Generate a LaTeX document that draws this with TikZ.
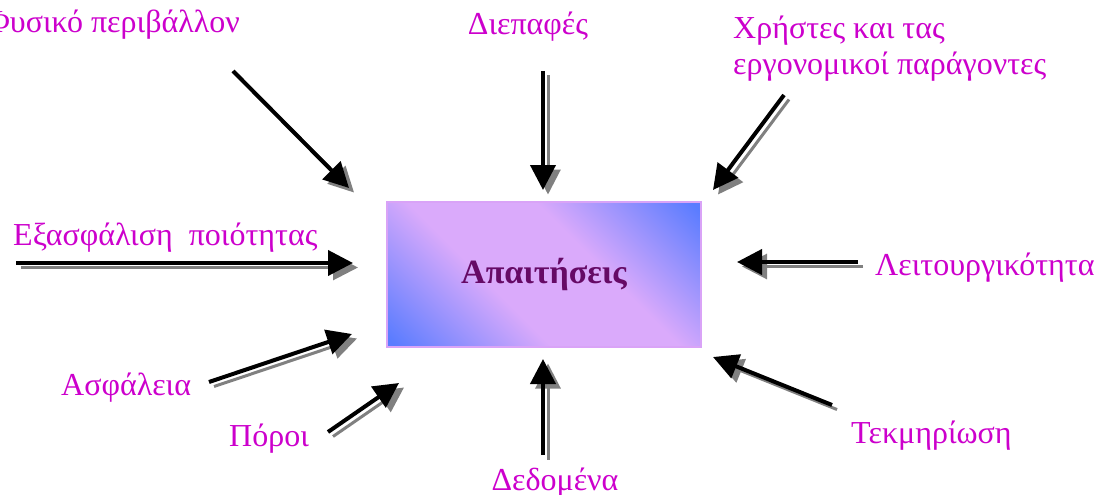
\documentclass[tikz,border=0pt]{standalone}
\usepackage{fontspec}
\setmainfont{Liberation Serif}
\usetikzlibrary{arrows.meta}
\definecolor{labelmagenta}{HTML}{CC00CC}
\definecolor{titlepurple}{HTML}{660A66}
\definecolor{boxblue}{HTML}{5A7CFF}
\definecolor{boxviolet}{HTML}{DAAAFB}
\definecolor{boxedge}{HTML}{D9A3F7}
\definecolor{shadowgray}{HTML}{808080}
% diagonal band: blue corners, wide violet middle
\pgfdeclarehorizontalshading{reqshade}{100bp}{%
  color(0bp)=(boxblue); color(16bp)=(boxblue); color(40bp)=(boxviolet);
  color(60bp)=(boxviolet); color(84bp)=(boxblue); color(100bp)=(boxblue)}
\newcommand\castarrow[2]{%
  \draw[inarrow, shadowline] (#1) -- (#2);
  \draw[inarrow] (#1) -- (#2);}
\begin{document}
\begin{tikzpicture}[x=1pt,y=-1pt,
  lbl/.style={text=labelmagenta, font=\fontsize{32}{36}\selectfont, inner sep=0pt},
  inarrow/.style={line width=4pt, -{Triangle[length=25pt,width=25pt]}},
  shadowline/.style={draw=shadowgray, fill=shadowgray, line width=3pt,
    transform canvas={xshift=5pt,yshift=-4.5pt}},
  reqbox/.style={draw=boxedge, line width=1.5pt, shading=reqshade,
    shading angle=45, minimum width=314pt, minimum height=145pt,
    text=titlepurple, font=\fontsize{34}{38}\selectfont\bfseries}]
\useasboundingbox (0,0) rectangle (1101,495);

% central requirements box
\node[reqbox] (req) at (544,274.5) {Απαιτήσεις};

% labels
\node[lbl, anchor=base east] (phys) at (240,33) {Φυσικό περιβάλλον};
\node[lbl, anchor=base] (iface) at (528,35) {Διεπαφές};
\node[lbl, anchor=north west, align=left] (users) at (733,16)
  {Χρήστες και τας\\εργονομικοί παράγοντες};
\node[lbl, anchor=base west] (qual) at (13,245) {Εξασφάλιση\ \ ποιότητας};
\node[lbl, anchor=base west] (func) at (875,275) {Λειτουργικότητα};
\node[lbl, anchor=base west] (safe) at (61,395) {Ασφάλεια};
\node[lbl, anchor=base west] (res) at (229,446) {Πόροι};
\node[lbl, anchor=base] (data) at (555,490) {Δεδομένα};
\node[lbl, anchor=base west] (doc) at (851,443) {Τεκμηρίωση};

% arrow end points
\coordinate (physS) at (233,71);   \coordinate (physT) at (349,188);
\coordinate (ifaceS) at (543,71);  \coordinate (ifaceT) at (543,190);
\coordinate (usersS) at (784,95);  \coordinate (usersT) at (713,190);
\coordinate (qualS) at (16,263);   \coordinate (qualT) at (353,263);
\coordinate (funcS) at (858,262);  \coordinate (funcT) at (737,262);
\coordinate (safeS) at (209,382);  \coordinate (safeT) at (352,334);
\coordinate (resS) at (328,432);   \coordinate (resT) at (399,383);
\coordinate (dataS) at (543,455);  \coordinate (dataT) at (543,359);
\coordinate (docS) at (832,405);   \coordinate (docT) at (713,357);

% arrows with cast shadows
\castarrow{physS}{physT}
\castarrow{ifaceS}{ifaceT}
\castarrow{usersS}{usersT}
\castarrow{qualS}{qualT}
\castarrow{funcS}{funcT}
\castarrow{safeS}{safeT}
\castarrow{resS}{resT}
\castarrow{dataS}{dataT}
\castarrow{docS}{docT}
\end{tikzpicture}
\end{document}
